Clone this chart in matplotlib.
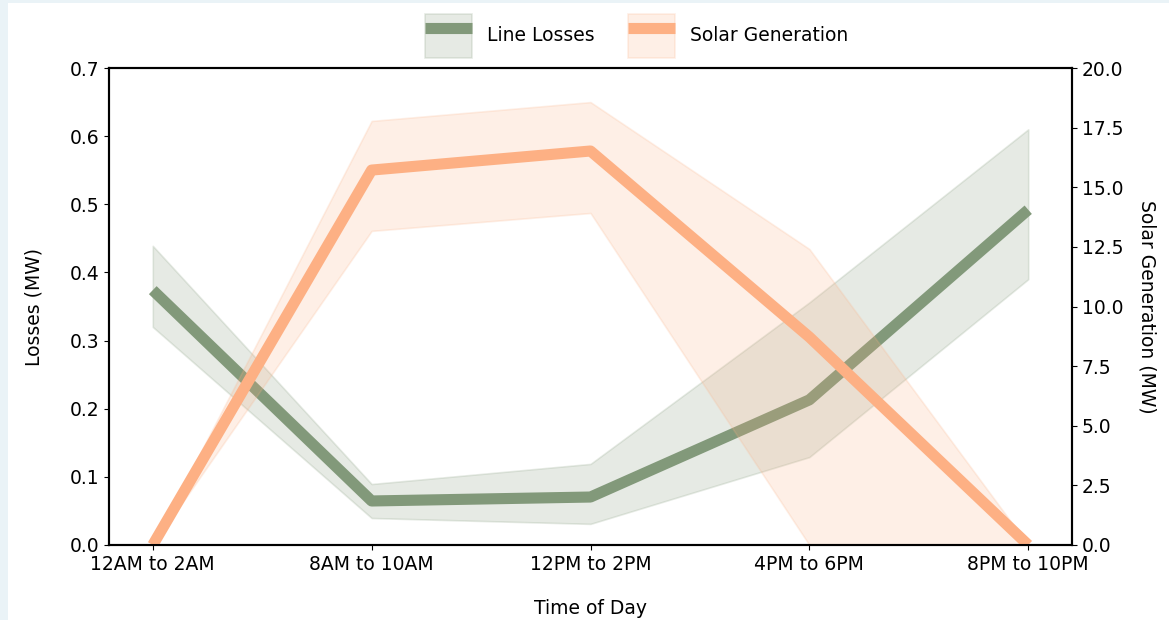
import matplotlib.pyplot as plt
from matplotlib.patches import Rectangle

periods = ["12AM to 2AM", "8AM to 10AM", "12PM to 2PM", "4PM to 6PM", "8PM to 10PM"]

losses = [0.374, 0.0646, 0.0704, 0.213, 0.492]
losses_low = [0.320, 0.0396, 0.031, 0.129, 0.390]
losses_high = [0.439, 0.0895, 0.119, 0.356, 0.610]

solar = [0.0, 15.72, 16.52, 8.72, 0.0]
solar_low = [0.0, 13.17, 13.92, 0.0, 0.0]
solar_high = [0.0, 17.78, 18.57, 12.41, 0.0]

green = "#82997a"
orange = "#fdb084"
fs = 13.5

fig = plt.figure(figsize=(11.69, 6.2), dpi=100, facecolor="#eaf3f7")
fig.patches.append(Rectangle((8 / 1169, 0), 1, 1 - 3 / 620, transform=fig.transFigure,
                             facecolor="white", edgecolor="none", zorder=-5))

ax = fig.add_axes([109 / 1169, 75 / 620, (1072 - 109) / 1169, (545 - 68) / 620])
ax.set_facecolor("none")
x = list(range(len(periods)))

band1 = ax.fill_between(x, losses_low, losses_high, color=green, alpha=0.2, lw=1.2)
line1, = ax.plot(x, losses, color=green, lw=8, solid_capstyle="butt")
ax.set_ylim(0, 0.7)
ax.set_xlim(-0.2, 4.2)
ax.set_xticks(x)
ax.set_xticklabels(periods, fontsize=fs)
ax.tick_params(axis="y", labelsize=fs)
ax.set_ylabel("Losses (MW)", fontsize=fs, labelpad=19)
ax.set_xlabel("Time of Day", fontsize=fs, labelpad=18)

ax2 = ax.twinx()
band2 = ax2.fill_between(x, solar_low, solar_high, color=orange, alpha=0.2, lw=1.2)
line2, = ax2.plot(x, solar, color=orange, lw=8, solid_capstyle="butt")
ax2.set_ylim(0, 20)
ax2.set_yticks([0, 2.5, 5, 7.5, 10, 12.5, 15, 17.5, 20])
ax2.set_yticklabels([f"{v:.1f}" for v in [0, 2.5, 5, 7.5, 10, 12.5, 15, 17.5, 20]])
ax2.tick_params(axis="y", labelsize=fs)
ax2.set_ylabel("Solar Generation (MW)", fontsize=fs, rotation=270, labelpad=24)

for a in (ax, ax2):
    for s in a.spines.values():
        s.set_linewidth(1.5)

fig.legend([(band1, line1), (band2, line2)], ["Line Losses", "Solar Generation"],
           loc="upper center", bbox_to_anchor=(0.5445, 1.0), ncol=2, frameon=False,
           fontsize=fs, handlelength=2.5, handleheight=3.2, columnspacing=1.8,
           borderaxespad=0.35)

fig.savefig("out.png", dpi=100, facecolor=fig.get_facecolor())
